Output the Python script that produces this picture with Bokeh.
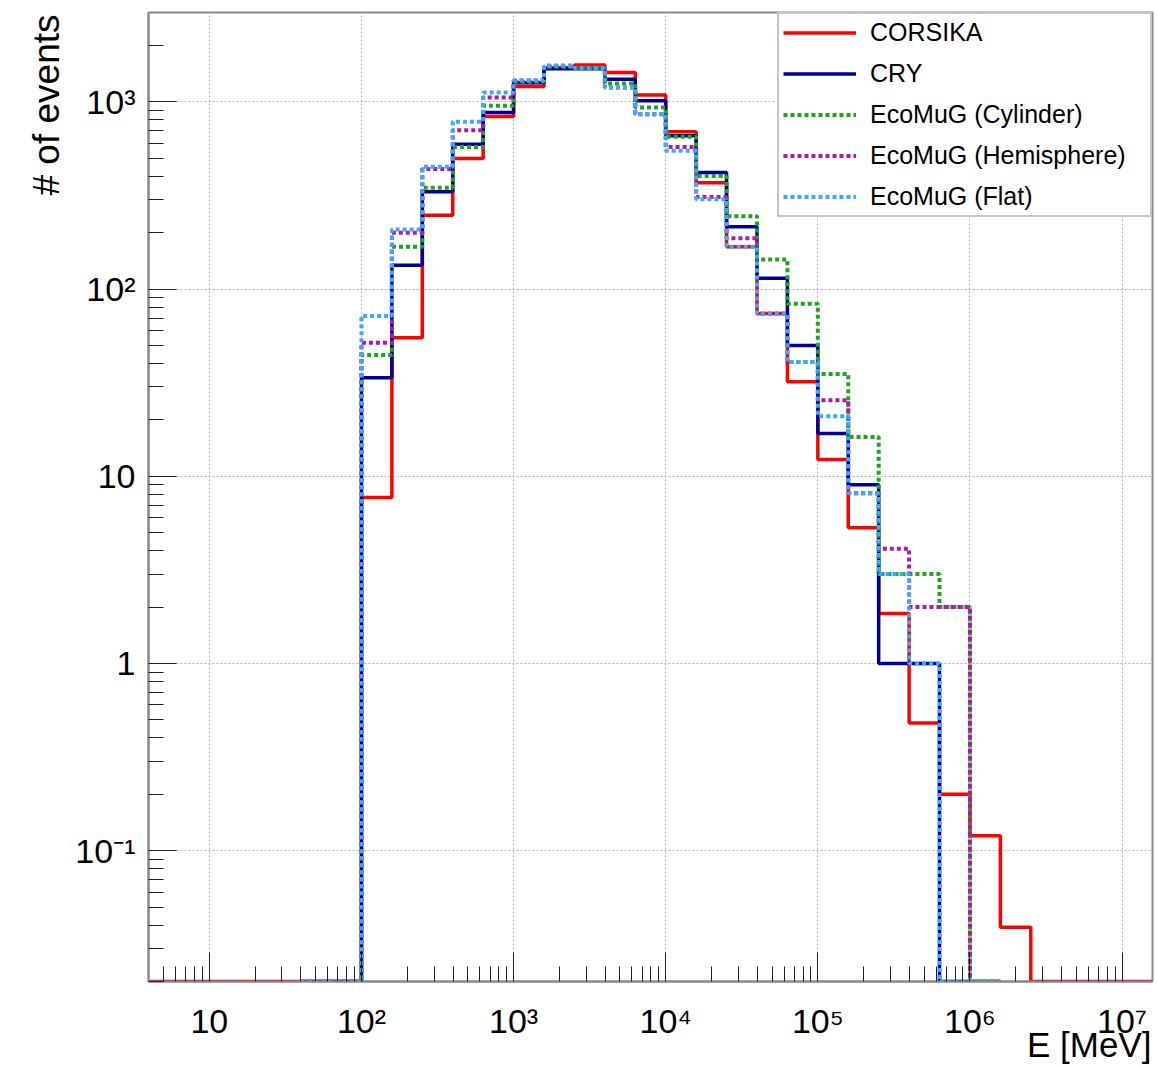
import math
from bokeh.plotting import figure
from bokeh.models import (Range1d, FixedTicker, CustomJSTickFormatter, Legend,
                          LegendItem)
from bokeh.embed import file_html
from bokeh.resources import INLINE

# ---- data (histograms, 5 bins per decade in log10(E/MeV)) ----
bin_width_dex = 0.2
corsika_first_edge = 0.6   # log10 of first lower edge
ecomug_first_edge = 1.6

corsika = [0, 0, 0, 0, 0, 0, 0,
           7.7, 55, 248, 498, 834, 1207, 1520, 1575, 1434, 1088,
           693, 370, 168, 74, 32, 12.3, 5.3, 1.85, 0.48, 0.2,
           0.12, 0.039, 0, 0, 0, 0]
cry = [0, 0, 33.6, 134, 331, 594, 877, 1265, 1500, 1500, 1322, 1012,
       658, 419, 215, 114, 50, 16.9, 9.0, 1.0, 1.0, 0, 0]
ecomug_cyl = [0, 0, 44.4, 168, 348, 574, 952, 1280, 1540, 1515, 1253, 932,
              650, 402, 245, 144, 83.4, 35.2, 16.2, 3.0, 3.0, 2.0, 0]
ecomug_hemi = [0, 0, 51.6, 200, 437, 706, 1054, 1300, 1559, 1515, 1192, 859,
               574, 310, 187, 73.8, 40.7, 25.5, 8.1, 4.1, 2.0, 2.0, 0]
ecomug_flat = [0, 0, 71.8, 208, 450, 782, 1121, 1300, 1559, 1515, 1192, 859,
               547, 302, 168, 73.8, 40.7, 20.9, 8.1, 3.0, 1.0, 0, 0]

series_names = ["CORSIKA", "CRY", "EcoMuG (Cylinder)", "EcoMuG (Hemisphere)", "EcoMuG (Flat)"]
x_title = "E [MeV]"
y_title = "# of events"

x_lo, x_hi = 10 ** 0.6, 10 ** 7.2
y_lo, y_hi = 0.02, 3000

FONT = "Liberation Sans"

p = figure(width=1158, height=1067, x_axis_type="log", y_axis_type="log",
           x_range=Range1d(x_lo, x_hi), y_range=Range1d(y_lo, y_hi),
           output_backend="svg", toolbar_location=None,
           min_border_left=148, min_border_right=6,
           min_border_top=12, min_border_bottom=86)
p.background_fill_color = "white"
p.border_fill_color = "white"
p.outline_line_color = "#8a8a8a"
p.outline_line_width = 2


def hist_path(vals, first_edge):
    xs, ys = [], []
    for i, v in enumerate(vals):
        lo = 10 ** (first_edge + i * bin_width_dex)
        hi = 10 ** (first_edge + (i + 1) * bin_width_dex)
        yv = v if v > 0 else y_lo
        xs += [lo, hi]
        ys += [yv, yv]
    return xs, ys


styles = [
    (corsika, corsika_first_edge, "#ff0000", 3.5, "solid"),
    (cry, ecomug_first_edge, "#000099", 3.5, "solid"),
    (ecomug_cyl, ecomug_first_edge, "#1fa51f", 4, "4 3"),
    (ecomug_hemi, ecomug_first_edge, "#b018a8", 4, "4 3"),
    (ecomug_flat, ecomug_first_edge, "#3aaaff", 4, "4 3"),
]

items = []
for (vals, edge, col, lw, dash), name in zip(styles, series_names):
    xs, ys = hist_path(vals, edge)
    r = p.line(xs, ys, line_color=col, line_width=lw, line_dash=dash)
    items.append(LegendItem(label=name, renderers=[r]))

# ---- axes ----
x_major = [10.0 ** k for k in range(1, 8)]
x_minor = [m * 10.0 ** k for k in range(0, 8) for m in range(2, 10)
           if x_lo < m * 10.0 ** k < x_hi]
y_major = [10.0 ** k for k in range(-1, 4)]
y_minor = [m * 10.0 ** k for k in range(-2, 4) for m in range(2, 10)
           if y_lo <= m * 10.0 ** k < y_hi]

fmt = CustomJSTickFormatter(code="""
const sup = {"0":"\u2070","1":"\u00b9","2":"\u00b2","3":"\u00b3","4":"\u2074",
             "5":"\u2075","6":"\u2076","7":"\u2077","8":"\u2078","9":"\u2079","-":"\u207b"};
const e = Math.round(Math.log10(tick));
if (e == 0) { return "1"; }
if (e == 1) { return "10"; }
return "10" + String(e).split("").map(c => sup[c]).join("");
""")

for ax, maj, mnr, tin in ((p.xaxis[0], x_major, x_minor, 29), (p.yaxis[0], y_major, y_minor, 28)):
    ax.ticker = FixedTicker(ticks=maj, minor_ticks=mnr)
    ax.formatter = fmt
    ax.major_tick_in = tin
    ax.major_tick_out = 0
    ax.minor_tick_in = 15
    ax.minor_tick_out = 0
    ax.major_tick_line_color = "#222222"
    ax.minor_tick_line_color = "#222222"
    ax.axis_line_color = "#8a8a8a"
    ax.axis_line_width = 2
    ax.major_label_text_font = FONT
    ax.major_label_text_font_size = "34px"
    ax.major_label_text_color = "black"
    ax.axis_label_text_font = FONT
    ax.axis_label_text_font_style = "normal"
    ax.axis_label_text_color = "black"

xa, ya = p.xaxis[0], p.yaxis[0]
xa.major_label_standoff = 20
ya.major_label_standoff = 13

# Axis titles sit at the far end of each axis (ROOT style).  Bokeh centres an
# "end"-aligned label on the axis end, so the title is padded with no-break
# spaces of the same width to put its visible end exactly at the axis end.
NBSP = "\u00a0"
xa.axis_label = x_title + NBSP * 13
xa.axis_label_text_font_size = "35px"
xa.axis_label_standoff = -18
ya.axis_label = y_title + NBSP * 18
ya.axis_label_text_font_size = "37px"
ya.axis_label_standoff = 5
for ax in (xa, ya):
    if "axis_label_align" in ax.properties():
        for v in ("end", "right"):
            try:
                ax.axis_label_align = v
                break
            except Exception:
                pass

for g in (p.xgrid[0], p.ygrid[0]):
    g.grid_line_color = "#b4b4b4"
    g.grid_line_dash = "2 2"
    g.grid_line_width = 1

# ---- legend ----
legend = Legend(items=items, location="top_right")
legend.margin = 0
legend.padding = 4
legend.spacing = 12
legend.glyph_width = 73
legend.glyph_height = 29
legend.label_height = 29
legend.label_width = 276
legend.label_standoff = 14
legend.label_text_font = FONT
legend.label_text_font_size = "25px"
legend.label_text_color = "black"
legend.border_line_color = "#8a8a8a"
legend.border_line_width = 2
legend.background_fill_color = "white"
legend.background_fill_alpha = 1.0
p.add_layout(legend)

open("out.html", "w").write(file_html(p, INLINE))
